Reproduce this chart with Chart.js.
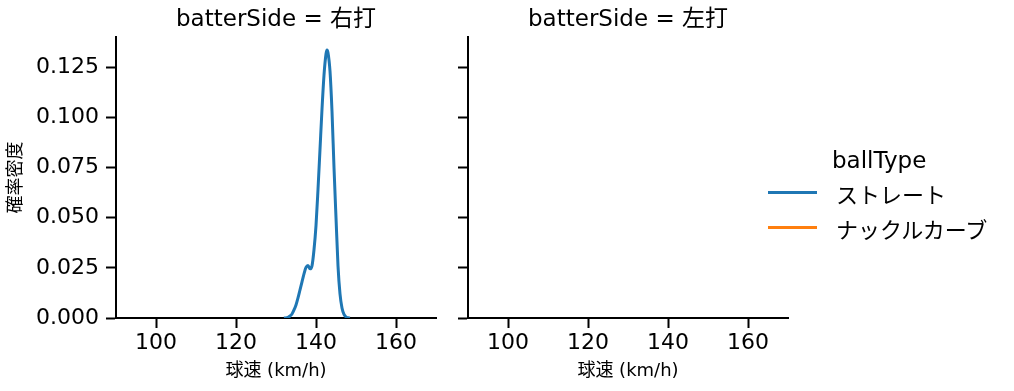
<!DOCTYPE html>
<html>
<head>
<meta charset="utf-8">
<script src="https://cdn.jsdelivr.net/npm/chart.js@4.4.1/dist/chart.umd.min.js"></script>
<style>
  body { margin: 0; background: #fff; font-family: "DejaVu Sans", "Noto Sans CJK JP", sans-serif; color: #000; }
  #wrap { position: relative; width: 1014px; height: 391px; overflow: hidden; }
  canvas { position: absolute; top: 0; }
  .ptitle { position: absolute; top: 4px; font-size: 23px; line-height: 28px; white-space: nowrap; transform: translateX(-50%); }
  #legend { position: absolute; left: 768px; top: 145px; }
  #legend .head { margin-left: 64px; font-size: 23px; line-height: 30px; }
  #legend .item { display: flex; align-items: center; height: 35px; font-size: 22px; }
  #legend .swatch { width: 49px; height: 3px; margin-right: 19px; }
</style>
</head>
<body>
<div id="wrap">
  <canvas id="leftChart" width="450" height="391" style="left:0px;width:450px;height:391px"></canvas>
  <canvas id="rightChart" width="350" height="391" style="left:450px;width:350px;height:391px"></canvas>
  <div class="ptitle" id="titleL" style="left:276px"></div>
  <div class="ptitle" id="titleR" style="left:628px"></div>
  <div id="legend"></div>
</div>
<script>
// facets and series
const panels = ['右打', '左打'];
const ballTypes = ['ストレート', 'ナックルカーブ'];
const colors = ['#1f77b4', '#ff7f0e'];

// ストレート vs 右打, density curve
const speedRight = [132, 133, 133.5, 134, 134.5, 135, 135.5, 136, 136.5, 137, 137.5, 138, 138.5, 139, 139.5,
  140, 140.5, 141, 141.5, 142, 142.5, 142.75, 143, 143.5, 144, 144.5, 145, 145.5, 146, 146.5, 147, 147.5, 148, 148.5];
const densityRight = [0, 0.0003, 0.001, 0.002, 0.004, 0.0065, 0.010, 0.014, 0.018, 0.022, 0.0252, 0.0262, 0.0245, 0.026, 0.034,
  0.046, 0.064, 0.084, 0.104, 0.121, 0.1315, 0.1335, 0.1322, 0.123, 0.103, 0.075, 0.050, 0.026, 0.012, 0.005, 0.0018, 0.0006, 0.0001, 0];

const xTicks = [100, 120, 140, 160];
const yTicks = [0, 0.025, 0.05, 0.075, 0.1, 0.125];

const font = '"DejaVu Sans", "Noto Sans CJK JP", sans-serif';

document.getElementById('titleL').textContent = 'batterSide = ' + panels[0];
document.getElementById('titleR').textContent = 'batterSide = ' + panels[1];

// legend
let lg = '<div class="head">ballType</div>';
ballTypes.forEach((b, i) => {
  lg += '<div class="item"><div class="swatch" style="background:' + colors[i] + '"></div>' + b + '</div>';
});
document.getElementById('legend').innerHTML = lg;

function makeChart(id, data, showLabels, yWidth, padRight) {
  return new Chart(document.getElementById(id), {
    type: 'line',
    data: {
      datasets: [
        {
          label: ballTypes[0],
          data: data,
          borderColor: colors[0],
          borderWidth: 3,
          pointRadius: 0,
          cubicInterpolationMode: 'monotone',
          fill: false
        },
        {
          label: ballTypes[1],
          data: [],
          borderColor: colors[1],
          borderWidth: 3,
          pointRadius: 0
        }
      ]
    },
    options: {
      responsive: false,
      animation: false,
      layout: { padding: { top: 37, right: padRight, left: 0, bottom: 0 } },
      plugins: { legend: { display: false }, tooltip: { enabled: false } },
      scales: {
        x: {
          type: 'linear',
          min: 90,
          max: 170,
          afterFit: s => { s.height = 73; },
          afterBuildTicks: s => { s.ticks = xTicks.map(v => ({ value: v })); },
          ticks: { color: '#000', font: { family: font, size: 22 }, padding: 2, maxRotation: 0 },
          grid: { drawOnChartArea: false, drawTicks: true, tickLength: 10, tickWidth: 2, tickColor: '#000' },
          border: { display: true, color: '#000', width: 2 },
          title: { display: true, text: '球速 (km/h)', color: '#000', font: { family: font, size: 18 }, padding: { top: 0, bottom: 9 } }
        },
        y: {
          type: 'linear',
          min: 0,
          max: 0.14,
          afterFit: s => { s.width = yWidth; },
          afterBuildTicks: s => { s.ticks = yTicks.map(v => ({ value: v })); },
          ticks: {
            color: showLabels ? '#000' : 'rgba(0,0,0,0)',
            font: { family: font, size: 22 },
            padding: 7,
            callback: v => v.toFixed(3)
          },
          grid: { drawOnChartArea: false, drawTicks: true, tickLength: 10, tickWidth: 2, tickColor: '#000' },
          border: { display: true, color: '#000', width: 2 },
          title: { display: showLabels, text: '確率密度', color: '#000', font: { family: font, size: 18 }, padding: { top: 6, bottom: 0 } }
        }
      }
    }
  });
}

const pts = speedRight.map((s, i) => ({ x: s, y: densityRight[i] }));
makeChart('leftChart', pts, true, 116, 14);
makeChart('rightChart', [], false, 18, 12);
</script>
</body>
</html>
